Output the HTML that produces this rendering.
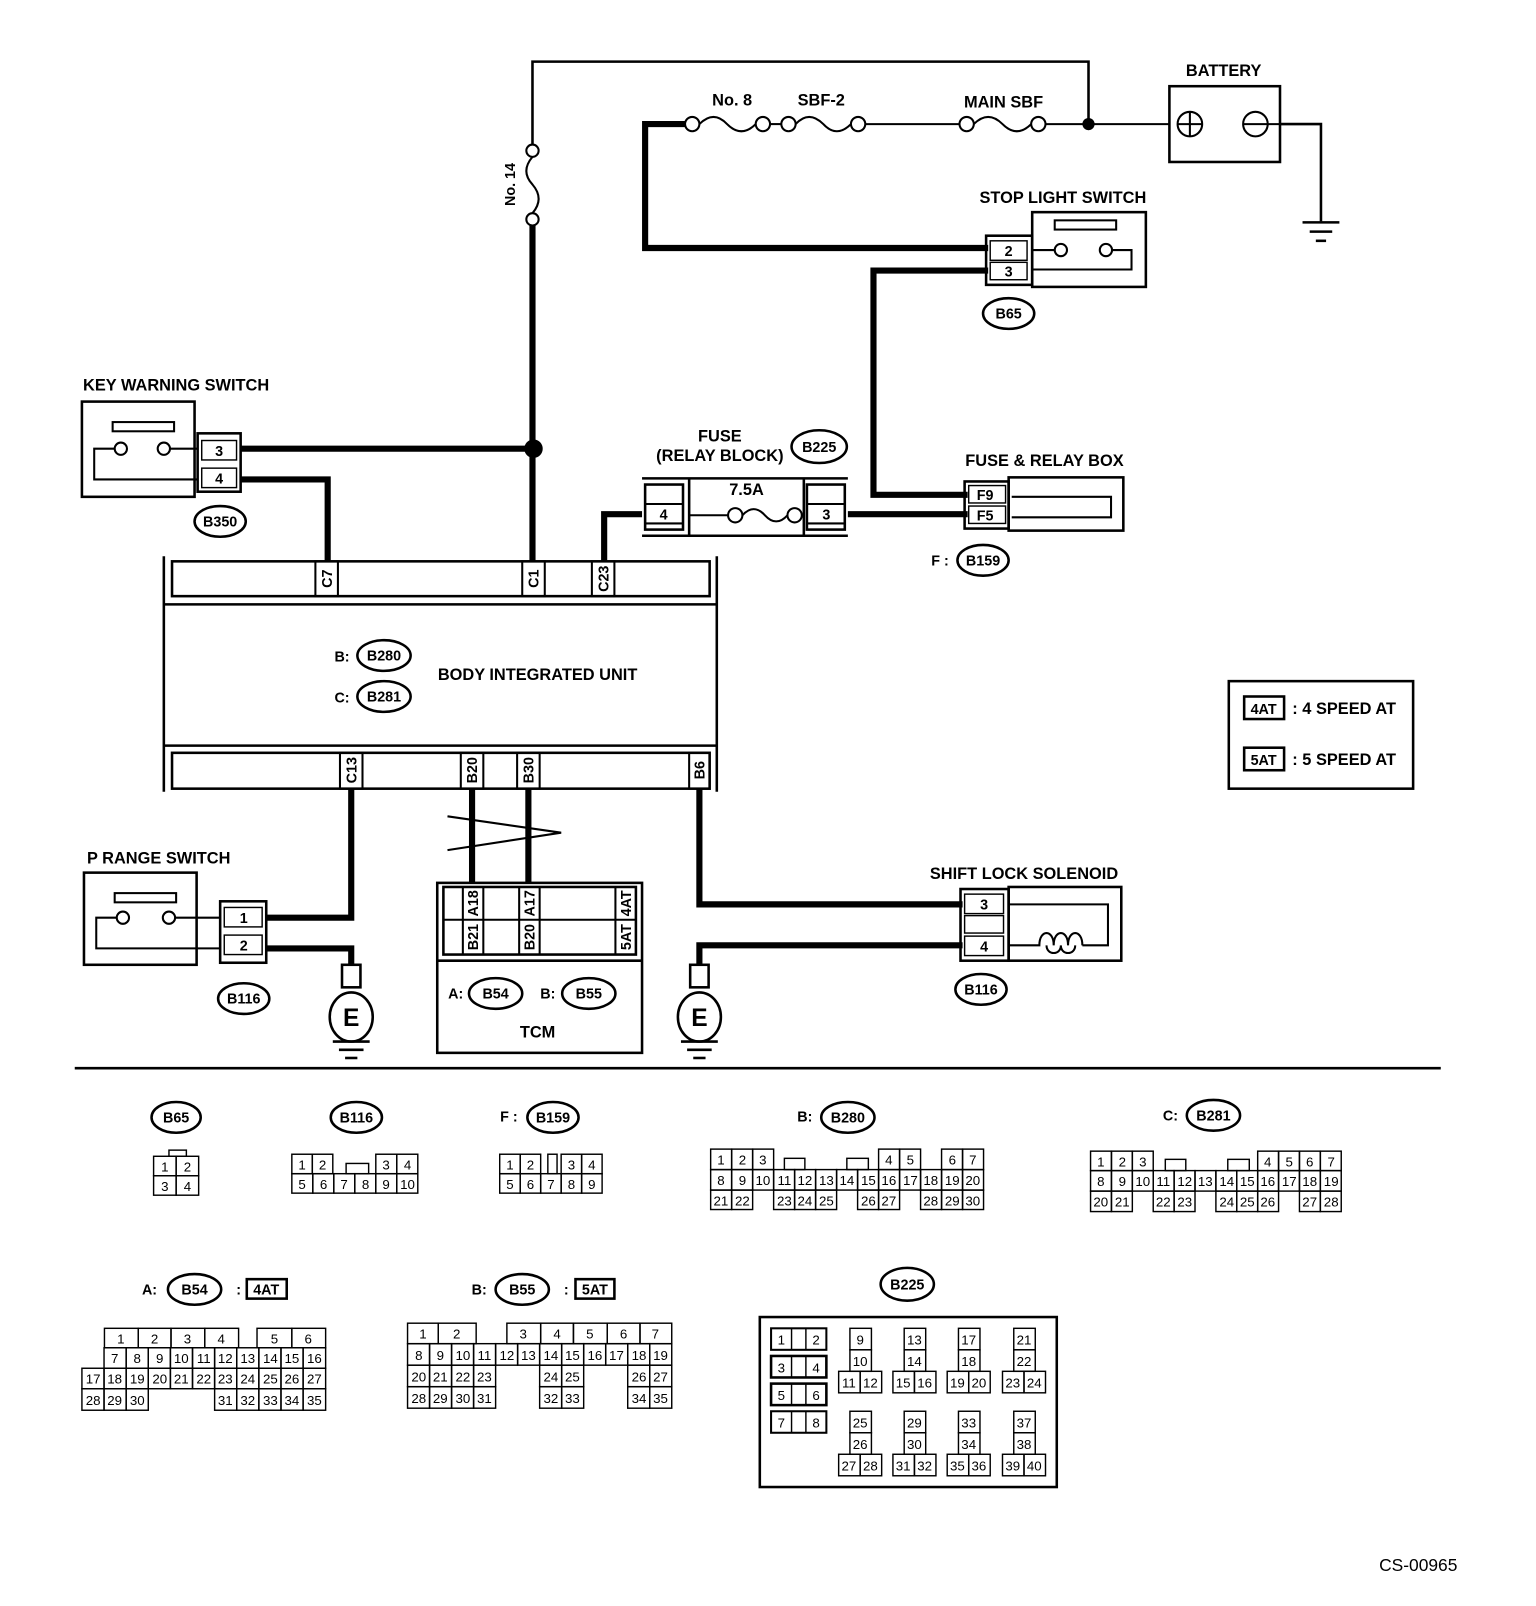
<!DOCTYPE html>
<html><head><meta charset="utf-8">
<style>
html,body{margin:0;padding:0;background:#fff;}
svg{display:block;}
text{font-family:"Liberation Sans",Arial,sans-serif;fill:#000;}
.l{font-weight:bold;font-size:14px;text-anchor:middle;}
.L{font-size:16px;}
.c{font-size:13px;text-anchor:middle;}
.o{fill:none;stroke:#000;stroke-width:2.5;}
.t{fill:none;stroke:#000;stroke-width:2;}
.k{fill:none;stroke:#000;stroke-width:6;}
.r{fill:none;stroke:#000;stroke-width:1.4;}
</style></head><body>
<svg width="1536" height="1606" viewBox="0 0 1500 1568" xmlns="http://www.w3.org/2000/svg">
<!-- top thin wire -->
<polyline class="o" points="520,141 520,60 1063,60 1063,121"/>
<circle class="t" cx="520" cy="147" r="6" fill="#fff"/>
<circle class="t" cx="520" cy="214" r="6" fill="#fff"/>
<path class="t" d="M520,153 q-12,14 0,27 q12,14 0,28"/>
<text class="l" transform="translate(503,180) rotate(-90)">No. 14</text>
<line class="k" x1="520" y1="220" x2="520" y2="548"/>
<circle cx="521" cy="438" r="9"/>
<!-- fuse row -->
<path class="k" d="M669,121 H630 V242 H965"/>
<circle class="t" cx="676" cy="121" r="7"/><circle class="t" cx="745" cy="121" r="7"/>
<circle class="t" cx="770" cy="121" r="7"/><circle class="t" cx="838" cy="121" r="7"/>
<circle class="t" cx="944" cy="121" r="7"/><circle class="t" cx="1014" cy="121" r="7"/>
<path class="t" d="M683,121 q14,-14 27,0 q14,14 28,0"/>
<path class="t" d="M777,121 q13,-14 27,0 q13,14 27,0"/>
<path class="t" d="M951,121 q14,-14 28,0 q14,14 28,0"/>
<line class="t" x1="752" y1="121" x2="763" y2="121"/>
<line class="t" x1="845" y1="121" x2="937" y2="121"/>
<line class="t" x1="1021" y1="121" x2="1143" y2="121"/>
<circle cx="1063" cy="121" r="6"/>
<text class="l L" x="715" y="103">No. 8</text>
<text class="l L" x="802" y="103">SBF-2</text>
<text class="l L" x="980" y="105">MAIN SBF</text>
<!-- battery -->
<rect class="o" x="1142" y="84" width="108" height="74"/>
<circle class="t" cx="1162" cy="121" r="12"/><line class="t" x1="1150" y1="121" x2="1174" y2="121"/><line class="t" x1="1162" y1="109" x2="1162" y2="133"/>
<circle class="t" cx="1226" cy="121" r="12"/><line class="t" x1="1214" y1="121" x2="1250" y2="121"/>
<polyline class="o" points="1250,121 1290,121 1290,216"/>
<line class="o" x1="1272" y1="217" x2="1308" y2="217"/>
<line class="o" x1="1279" y1="226" x2="1301" y2="226"/>
<line class="o" x1="1285" y1="235" x2="1295" y2="235"/>
<text class="l L" x="1195" y="74">BATTERY</text>
<!-- stop light switch -->
<text class="l L" x="1038" y="198">STOP LIGHT SWITCH</text>
<rect class="o" x="963" y="230" width="45" height="48"/>
<rect class="r" x="967" y="235" width="36" height="19"/><text class="l" x="985" y="250">2</text>
<rect class="r" x="967" y="256" width="36" height="17"/><text class="l" x="985" y="270">3</text>
<rect class="o" x="1008" y="207" width="111" height="73"/>
<rect class="t" x="1030" y="215" width="60" height="9"/>
<circle class="t" cx="1036" cy="244" r="6"/><circle class="t" cx="1080" cy="244" r="6"/>
<line class="t" x1="1008" y1="244" x2="1030" y2="244"/>
<polyline class="t" points="1086,244 1105,244 1105,263 1008,263"/>
<ellipse class="o" cx="985" cy="306" rx="25" ry="15"/><text class="l" x="985" y="311">B65</text>
<path class="k" d="M965,264 H853 V483 H945"/>
<!-- fuse & relay box -->
<text class="l L" x="1020" y="455">FUSE &amp; RELAY BOX</text>
<rect class="o" x="942" y="470" width="43" height="46"/>
<rect class="r" x="946" y="474" width="36" height="17"/><text class="l" x="962" y="488">F9</text>
<rect class="r" x="946" y="494" width="36" height="17"/><text class="l" x="962" y="508">F5</text>
<rect class="o" x="985" y="466" width="112" height="52"/>
<polyline class="t" points="988,485 1085,485 1085,505 988,505"/>
<text class="l" x="918" y="552">F :</text>
<ellipse class="o" cx="960" cy="547" rx="25" ry="15"/><text class="l" x="960" y="552">B159</text>
<!-- relay block -->
<text class="l L" x="703" y="431">FUSE</text>
<text class="l L" x="703" y="450">(RELAY BLOCK)</text>
<ellipse class="o" cx="800" cy="436" rx="27" ry="16"/><text class="l" x="800" y="441">B225</text>
<line class="o" x1="627" y1="467" x2="828" y2="467"/>
<line class="o" x1="627" y1="523" x2="828" y2="523"/>
<line class="o" x1="673" y1="467" x2="673" y2="523"/>
<line class="o" x1="785" y1="467" x2="785" y2="523"/>
<rect class="o" x="630" y="473" width="37" height="44"/><line class="t" x1="630" y1="492" x2="667" y2="492"/><line class="t" x1="630" y1="511" x2="667" y2="511"/>
<rect class="o" x="788" y="473" width="37" height="44"/><line class="t" x1="788" y1="492" x2="825" y2="492"/><line class="t" x1="788" y1="511" x2="825" y2="511"/>
<text class="l" x="648" y="507">4</text><text class="l" x="807" y="507">3</text>
<text class="l L" x="729" y="483">7.5A</text>
<circle class="t" cx="718" cy="503" r="7"/><circle class="t" cx="776" cy="503" r="7"/>
<line class="t" x1="673" y1="503" x2="711" y2="503"/><line class="t" x1="783" y1="503" x2="785" y2="503"/>
<path class="t" d="M725,503 q11,-12 22,0 q11,12 22,0"/>
<path class="k" d="M828,502 H945"/>
<path class="k" d="M627,502 H590 V548"/>
<!-- body integrated unit -->
<line class="o" x1="160" y1="543" x2="160" y2="773"/>
<line class="o" x1="700" y1="543" x2="700" y2="773"/>
<rect class="o" x="168" y="548" width="525" height="34"/>
<line class="o" x1="160" y1="590" x2="700" y2="590"/>
<line class="o" x1="160" y1="728" x2="700" y2="728"/>
<rect class="o" x="168" y="735" width="525" height="35"/>
<rect class="t" x="308" y="548" width="22" height="34"/><text class="l" transform="translate(324,565) rotate(-90)">C7</text>
<rect class="t" x="510" y="548" width="22" height="34"/><text class="l" transform="translate(526,565) rotate(-90)">C1</text>
<rect class="t" x="578" y="548" width="22" height="34"/><text class="l" transform="translate(594,565) rotate(-90)">C23</text>
<rect class="t" x="332" y="735" width="22" height="35"/><text class="l" transform="translate(348,752) rotate(-90)">C13</text>
<rect class="t" x="450" y="735" width="22" height="35"/><text class="l" transform="translate(466,752) rotate(-90)">B20</text>
<rect class="t" x="505" y="735" width="22" height="35"/><text class="l" transform="translate(521,752) rotate(-90)">B30</text>
<rect class="t" x="673" y="735" width="20" height="35"/><text class="l" transform="translate(688,752) rotate(-90)">B6</text>
<text class="l" x="334" y="646">B:</text>
<ellipse class="o" cx="375" cy="640" rx="26" ry="15"/><text class="l" x="375" y="645">B280</text>
<text class="l" x="334" y="686">C:</text>
<ellipse class="o" cx="375" cy="680" rx="26" ry="15"/><text class="l" x="375" y="685">B281</text>
<text class="l L" x="525" y="664">BODY INTEGRATED UNIT</text>
<!-- key warning switch -->
<text class="l L" x="172" y="381">KEY WARNING SWITCH</text>
<rect class="o" x="80" y="392" width="110" height="93"/>
<rect class="o" x="193" y="423" width="42" height="57"/>
<rect class="r" x="197" y="430" width="34" height="19"/><text class="l" x="214" y="445">3</text>
<rect class="r" x="197" y="457" width="34" height="19"/><text class="l" x="214" y="472">4</text>
<rect class="t" x="110" y="412" width="60" height="9"/>
<circle class="t" cx="118" cy="438" r="6"/><circle class="t" cx="160" cy="438" r="6"/>
<line class="t" x1="166" y1="438" x2="193" y2="438"/>
<polyline class="t" points="112,438 92,438 92,468 193,468"/>
<ellipse class="o" cx="215" cy="509" rx="25" ry="15"/><text class="l" x="215" y="514">B350</text>
<path class="k" d="M235,438 H521"/>
<path class="k" d="M235,468 H320 V548"/>
<!-- P range switch -->
<text class="l L" x="155" y="843">P RANGE SWITCH</text>
<rect class="o" x="82" y="852" width="110" height="90"/>
<rect class="o" x="215" y="880" width="45" height="60"/>
<rect class="r" x="219" y="886" width="37" height="19"/><text class="l" x="238" y="901">1</text>
<rect class="r" x="219" y="913" width="37" height="19"/><text class="l" x="238" y="928">2</text>
<rect class="t" x="112" y="872" width="60" height="9"/>
<circle class="t" cx="120" cy="896" r="6"/><circle class="t" cx="165" cy="896" r="6"/>
<line class="t" x1="171" y1="896" x2="215" y2="896"/>
<polyline class="t" points="114,896 94,896 94,926 215,926"/>
<ellipse class="o" cx="238" cy="975" rx="25" ry="15"/><text class="l" x="238" y="980">B116</text>
<path class="k" d="M260,896 H343 V770"/>
<path class="k" d="M260,926 H343 V942"/>
<rect class="o" x="334" y="942" width="18" height="22"/>
<ellipse class="o" cx="343" cy="993" rx="21" ry="24"/>
<text x="343" y="1002" style="font-weight:bold;font-size:24px;text-anchor:middle">E</text>
<line class="o" x1="325" y1="1017" x2="361" y2="1017"/>
<line class="o" x1="331" y1="1025" x2="355" y2="1025"/>
<line class="o" x1="337" y1="1033" x2="349" y2="1033"/>
<!-- TCM -->
<line class="k" x1="461" y1="770" x2="461" y2="862"/>
<line class="k" x1="516" y1="770" x2="516" y2="862"/>
<polyline class="t" points="437,797 548,813 437,830"/>
<rect class="o" x="427" y="862" width="200" height="166"/>
<rect class="o" x="433" y="866" width="188" height="66"/>
<line class="t" x1="433" y1="898" x2="621" y2="898"/>
<line class="o" x1="427" y1="938" x2="627" y2="938"/>
<line class="t" x1="452" y1="866" x2="452" y2="932"/><line class="t" x1="472" y1="866" x2="472" y2="932"/>
<line class="t" x1="507" y1="866" x2="507" y2="932"/><line class="t" x1="527" y1="866" x2="527" y2="932"/>
<line class="t" x1="601" y1="866" x2="601" y2="932"/>
<text class="l" transform="translate(467,882) rotate(-90)">A18</text>
<text class="l" transform="translate(467,915) rotate(-90)">B21</text>
<text class="l" transform="translate(522,882) rotate(-90)">A17</text>
<text class="l" transform="translate(522,915) rotate(-90)">B20</text>
<text class="l" transform="translate(616,882) rotate(-90)">4AT</text>
<text class="l" transform="translate(616,915) rotate(-90)">5AT</text>
<text class="l" x="445" y="975">A:</text>
<ellipse class="o" cx="484" cy="970" rx="26" ry="15"/><text class="l" x="484" y="975">B54</text>
<text class="l" x="535" y="975">B:</text>
<ellipse class="o" cx="575" cy="970" rx="26" ry="15"/><text class="l" x="575" y="975">B55</text>
<text class="l L" x="525" y="1013">TCM</text>
<!-- shift lock -->
<path class="k" d="M683,770 V883 H940"/>
<path class="k" d="M940,923 H683 V942"/>
<rect class="o" x="674" y="942" width="18" height="22"/>
<ellipse class="o" cx="683" cy="993" rx="21" ry="24"/>
<text x="683" y="1002" style="font-weight:bold;font-size:24px;text-anchor:middle">E</text>
<line class="o" x1="665" y1="1017" x2="701" y2="1017"/>
<line class="o" x1="671" y1="1025" x2="695" y2="1025"/>
<line class="o" x1="677" y1="1033" x2="689" y2="1033"/>
<text class="l L" x="1000" y="858">SHIFT LOCK SOLENOID</text>
<rect class="o" x="938" y="868" width="47" height="70"/>
<rect class="r" x="942" y="873" width="38" height="19"/><text class="l" x="961" y="888">3</text>
<rect class="r" x="942" y="894" width="38" height="17"/>
<rect class="r" x="942" y="914" width="38" height="19"/><text class="l" x="961" y="929">4</text>
<rect class="o" x="985" y="866" width="110" height="72"/>
<path class="t" d="M985,923 H1015 c0,-16 14,-16 14,0 c0,-16 14,-16 14,0 c0,-16 14,-16 14,0 M1057,923 H1082 V883 H985"/>
<path class="t" d="M1022,923 c0,10 14,10 14,0 M1036,923 c0,10 14,10 14,0"/>
<ellipse class="o" cx="958" cy="966" rx="25" ry="15"/><text class="l" x="958" y="971">B116</text>
<!-- legend -->
<rect class="o" x="1200" y="665" width="180" height="105"/>
<rect class="o" x="1215" y="680" width="39" height="22"/><text class="l" x="1234" y="697">4AT</text>
<text class="l L" x="1262" y="697" style="text-anchor:start">: 4 SPEED AT</text>
<rect class="o" x="1215" y="730" width="39" height="22"/><text class="l" x="1234" y="747">5AT</text>
<text class="l L" x="1262" y="747" style="text-anchor:start">: 5 SPEED AT</text>
<line class="o" x1="73" y1="1043" x2="1407" y2="1043"/>
<text x="1385" y="1534" style="font-size:17px;text-anchor:middle">CS-00965</text>

<!-- B65 -->
<ellipse class="o" cx="172" cy="1091" rx="24" ry="15"/><text class="l" x="172" y="1096">B65</text>
<g class="r"><rect class="r" x="165" y="1123" width="17" height="6"/>
<rect class="r" x="150" y="1129" width="22" height="19"/><rect class="r" x="172" y="1129" width="22" height="19"/>
<rect class="r" x="150" y="1148" width="22" height="19"/><rect class="r" x="172" y="1148" width="22" height="19"/></g>
<text class="c" x="161" y="1144">1</text><text class="c" x="183" y="1144">2</text><text class="c" x="161" y="1163">3</text><text class="c" x="183" y="1163">4</text>

<!-- B116 -->
<ellipse class="o" cx="348" cy="1091" rx="25" ry="15"/><text class="l" x="348" y="1096">B116</text>
<rect class="r" x="285" y="1127" width="20" height="19"/><text class="c" x="295" y="1142">1</text>
<rect class="r" x="305" y="1127" width="20" height="19"/><text class="c" x="315" y="1142">2</text>
<rect class="r" x="338" y="1136" width="22" height="10"/>
<rect class="r" x="367" y="1127" width="20.5" height="19"/><text class="c" x="377" y="1142">3</text>
<rect class="r" x="387.5" y="1127" width="20.5" height="19"/><text class="c" x="398" y="1142">4</text>
<rect class="r" x="285" y="1146" width="20.5" height="19"/><text class="c" x="295" y="1161">5</text>
<rect class="r" x="305.5" y="1146" width="20.5" height="19"/><text class="c" x="316" y="1161">6</text>
<rect class="r" x="326" y="1146" width="20.5" height="19"/><text class="c" x="336" y="1161">7</text>
<rect class="r" x="346.5" y="1146" width="20.5" height="19"/><text class="c" x="357" y="1161">8</text>
<rect class="r" x="367" y="1146" width="20.5" height="19"/><text class="c" x="377" y="1161">9</text>
<rect class="r" x="387.5" y="1146" width="20.5" height="19"/><text class="c" x="398" y="1161">10</text>

<!-- B159 -->
<text class="l" x="497" y="1095">F :</text>
<ellipse class="o" cx="540" cy="1091" rx="25" ry="15"/><text class="l" x="540" y="1096">B159</text>
<rect class="r" x="488" y="1127" width="20" height="19"/><text class="c" x="498" y="1142">1</text>
<rect class="r" x="508" y="1127" width="20" height="19"/><text class="c" x="518" y="1142">2</text>
<rect class="r" x="535" y="1127" width="9" height="19"/>
<rect class="r" x="548" y="1127" width="20" height="19"/><text class="c" x="558" y="1142">3</text>
<rect class="r" x="568" y="1127" width="20" height="19"/><text class="c" x="578" y="1142">4</text>
<rect class="r" x="488" y="1146" width="20" height="19"/><text class="c" x="498" y="1161">5</text>
<rect class="r" x="508" y="1146" width="20" height="19"/><text class="c" x="518" y="1161">6</text>
<rect class="r" x="528" y="1146" width="20" height="19"/><text class="c" x="538" y="1161">7</text>
<rect class="r" x="548" y="1146" width="20" height="19"/><text class="c" x="558" y="1161">8</text>
<rect class="r" x="568" y="1146" width="20" height="19"/><text class="c" x="578" y="1161">9</text>

<!-- B280 -->
<text class="l" x="786" y="1095">B:</text>
<ellipse class="o" cx="828" cy="1091" rx="26" ry="15"/><text class="l" x="828" y="1096">B280</text>
<rect class="r" x="766" y="1131" width="20" height="11"/><rect class="r" x="827" y="1131" width="21" height="11"/>
<rect class="r" x="694" y="1122" width="20.5" height="20"/><text class="c" x="704" y="1137">1</text>
<rect class="r" x="714.5" y="1122" width="20.5" height="20"/><text class="c" x="725" y="1137">2</text>
<rect class="r" x="735" y="1122" width="20.5" height="20"/><text class="c" x="745" y="1137">3</text>
<rect class="r" x="858" y="1122" width="20.5" height="20"/><text class="c" x="868" y="1137">4</text>
<rect class="r" x="878.5" y="1122" width="20.5" height="20"/><text class="c" x="889" y="1137">5</text>
<rect class="r" x="919.5" y="1122" width="20.5" height="20"/><text class="c" x="930" y="1137">6</text>
<rect class="r" x="940" y="1122" width="20.5" height="20"/><text class="c" x="950" y="1137">7</text>
<rect class="r" x="694" y="1142" width="20.5" height="20"/><text class="c" x="704" y="1157">8</text>
<rect class="r" x="714.5" y="1142" width="20.5" height="20"/><text class="c" x="725" y="1157">9</text>
<rect class="r" x="735" y="1142" width="20.5" height="20"/><text class="c" x="745" y="1157">10</text>
<rect class="r" x="755.5" y="1142" width="20.5" height="20"/><text class="c" x="766" y="1157">11</text>
<rect class="r" x="776" y="1142" width="20.5" height="20"/><text class="c" x="786" y="1157">12</text>
<rect class="r" x="796.5" y="1142" width="20.5" height="20"/><text class="c" x="807" y="1157">13</text>
<rect class="r" x="817" y="1142" width="20.5" height="20"/><text class="c" x="827" y="1157">14</text>
<rect class="r" x="837.5" y="1142" width="20.5" height="20"/><text class="c" x="848" y="1157">15</text>
<rect class="r" x="858" y="1142" width="20.5" height="20"/><text class="c" x="868" y="1157">16</text>
<rect class="r" x="878.5" y="1142" width="20.5" height="20"/><text class="c" x="889" y="1157">17</text>
<rect class="r" x="899" y="1142" width="20.5" height="20"/><text class="c" x="909" y="1157">18</text>
<rect class="r" x="919.5" y="1142" width="20.5" height="20"/><text class="c" x="930" y="1157">19</text>
<rect class="r" x="940" y="1142" width="20.5" height="20"/><text class="c" x="950" y="1157">20</text>
<rect class="r" x="694" y="1162" width="20.5" height="19"/><text class="c" x="704" y="1177">21</text>
<rect class="r" x="714.5" y="1162" width="20.5" height="19"/><text class="c" x="725" y="1177">22</text>
<rect class="r" x="755.5" y="1162" width="20.5" height="19"/><text class="c" x="766" y="1177">23</text>
<rect class="r" x="776" y="1162" width="20.5" height="19"/><text class="c" x="786" y="1177">24</text>
<rect class="r" x="796.5" y="1162" width="20.5" height="19"/><text class="c" x="807" y="1177">25</text>
<rect class="r" x="837.5" y="1162" width="20.5" height="19"/><text class="c" x="848" y="1177">26</text>
<rect class="r" x="858" y="1162" width="20.5" height="19"/><text class="c" x="868" y="1177">27</text>
<rect class="r" x="899" y="1162" width="20.5" height="19"/><text class="c" x="909" y="1177">28</text>
<rect class="r" x="919.5" y="1162" width="20.5" height="19"/><text class="c" x="930" y="1177">29</text>
<rect class="r" x="940" y="1162" width="20.5" height="19"/><text class="c" x="950" y="1177">30</text>

<!-- B281 -->
<text class="l" x="1143" y="1094">C:</text>
<ellipse class="o" cx="1185" cy="1089" rx="26" ry="15"/><text class="l" x="1185" y="1094">B281</text>
<rect class="r" x="1138" y="1132" width="20" height="11"/><rect class="r" x="1199" y="1132" width="21" height="11"/>
<rect class="r" x="1065" y="1124" width="20.4" height="19"/><text class="c" x="1075" y="1139">1</text>
<rect class="r" x="1085.4" y="1124" width="20.4" height="19"/><text class="c" x="1096" y="1139">2</text>
<rect class="r" x="1105.8" y="1124" width="20.4" height="19"/><text class="c" x="1116" y="1139">3</text>
<rect class="r" x="1228.2" y="1124" width="20.4" height="19"/><text class="c" x="1238" y="1139">4</text>
<rect class="r" x="1248.6" y="1124" width="20.4" height="19"/><text class="c" x="1259" y="1139">5</text>
<rect class="r" x="1269" y="1124" width="20.4" height="19"/><text class="c" x="1279" y="1139">6</text>
<rect class="r" x="1289.4" y="1124" width="20.4" height="19"/><text class="c" x="1300" y="1139">7</text>
<rect class="r" x="1065" y="1143" width="20.4" height="20"/><text class="c" x="1075" y="1158">8</text>
<rect class="r" x="1085.4" y="1143" width="20.4" height="20"/><text class="c" x="1096" y="1158">9</text>
<rect class="r" x="1105.8" y="1143" width="20.4" height="20"/><text class="c" x="1116" y="1158">10</text>
<rect class="r" x="1126.2" y="1143" width="20.4" height="20"/><text class="c" x="1136" y="1158">11</text>
<rect class="r" x="1146.6" y="1143" width="20.4" height="20"/><text class="c" x="1157" y="1158">12</text>
<rect class="r" x="1167" y="1143" width="20.4" height="20"/><text class="c" x="1177" y="1158">13</text>
<rect class="r" x="1187.4" y="1143" width="20.4" height="20"/><text class="c" x="1198" y="1158">14</text>
<rect class="r" x="1207.8" y="1143" width="20.4" height="20"/><text class="c" x="1218" y="1158">15</text>
<rect class="r" x="1228.2" y="1143" width="20.4" height="20"/><text class="c" x="1238" y="1158">16</text>
<rect class="r" x="1248.6" y="1143" width="20.4" height="20"/><text class="c" x="1259" y="1158">17</text>
<rect class="r" x="1269" y="1143" width="20.4" height="20"/><text class="c" x="1279" y="1158">18</text>
<rect class="r" x="1289.4" y="1143" width="20.4" height="20"/><text class="c" x="1300" y="1158">19</text>
<rect class="r" x="1065" y="1163" width="20.4" height="20"/><text class="c" x="1075" y="1178">20</text>
<rect class="r" x="1085.4" y="1163" width="20.4" height="20"/><text class="c" x="1096" y="1178">21</text>
<rect class="r" x="1126.2" y="1163" width="20.4" height="20"/><text class="c" x="1136" y="1178">22</text>
<rect class="r" x="1146.6" y="1163" width="20.4" height="20"/><text class="c" x="1157" y="1178">23</text>
<rect class="r" x="1187.4" y="1163" width="20.4" height="20"/><text class="c" x="1198" y="1178">24</text>
<rect class="r" x="1207.8" y="1163" width="20.4" height="20"/><text class="c" x="1218" y="1178">25</text>
<rect class="r" x="1228.2" y="1163" width="20.4" height="20"/><text class="c" x="1238" y="1178">26</text>
<rect class="r" x="1269" y="1163" width="20.4" height="20"/><text class="c" x="1279" y="1178">27</text>
<rect class="r" x="1289.4" y="1163" width="20.4" height="20"/><text class="c" x="1300" y="1178">28</text>

<!-- B54 -->
<text class="l" x="146" y="1264">A:</text>
<ellipse class="o" cx="190" cy="1259" rx="26" ry="15"/><text class="l" x="190" y="1264">B54</text>
<text class="l" x="233" y="1264">:</text>
<rect class="o" x="241" y="1249" width="39" height="19"/><text class="l" x="260" y="1264">4AT</text>
<rect class="r" x="102" y="1297" width="33" height="19"/><text class="c" x="118" y="1312">1</text>
<rect class="r" x="135" y="1297" width="32" height="19"/><text class="c" x="151" y="1312">2</text>
<rect class="r" x="167" y="1297" width="33" height="19"/><text class="c" x="183" y="1312">3</text>
<rect class="r" x="200" y="1297" width="33" height="19"/><text class="c" x="216" y="1312">4</text>
<rect class="r" x="251" y="1297" width="34" height="19"/><text class="c" x="268" y="1312">5</text>
<rect class="r" x="285" y="1297" width="33" height="19"/><text class="c" x="301" y="1312">6</text>
<rect class="r" x="101.6" y="1316" width="21.6" height="20"/><text class="c" x="112" y="1331">7</text>
<rect class="r" x="123.2" y="1316" width="21.6" height="20"/><text class="c" x="134" y="1331">8</text>
<rect class="r" x="144.8" y="1316" width="21.6" height="20"/><text class="c" x="156" y="1331">9</text>
<rect class="r" x="166.4" y="1316" width="21.6" height="20"/><text class="c" x="177" y="1331">10</text>
<rect class="r" x="188" y="1316" width="21.6" height="20"/><text class="c" x="199" y="1331">11</text>
<rect class="r" x="209.6" y="1316" width="21.6" height="20"/><text class="c" x="220" y="1331">12</text>
<rect class="r" x="231.2" y="1316" width="21.6" height="20"/><text class="c" x="242" y="1331">13</text>
<rect class="r" x="252.8" y="1316" width="21.6" height="20"/><text class="c" x="264" y="1331">14</text>
<rect class="r" x="274.4" y="1316" width="21.6" height="20"/><text class="c" x="285" y="1331">15</text>
<rect class="r" x="296" y="1316" width="22" height="20"/><text class="c" x="307" y="1331">16</text>
<rect class="r" x="80" y="1336" width="21.6" height="20"/><text class="c" x="91" y="1351">17</text>
<rect class="r" x="101.6" y="1336" width="21.6" height="20"/><text class="c" x="112" y="1351">18</text>
<rect class="r" x="123.2" y="1336" width="21.6" height="20"/><text class="c" x="134" y="1351">19</text>
<rect class="r" x="144.8" y="1336" width="21.6" height="20"/><text class="c" x="156" y="1351">20</text>
<rect class="r" x="166.4" y="1336" width="21.6" height="20"/><text class="c" x="177" y="1351">21</text>
<rect class="r" x="188" y="1336" width="21.6" height="20"/><text class="c" x="199" y="1351">22</text>
<rect class="r" x="209.6" y="1336" width="21.6" height="20"/><text class="c" x="220" y="1351">23</text>
<rect class="r" x="231.2" y="1336" width="21.6" height="20"/><text class="c" x="242" y="1351">24</text>
<rect class="r" x="252.8" y="1336" width="21.6" height="20"/><text class="c" x="264" y="1351">25</text>
<rect class="r" x="274.4" y="1336" width="21.6" height="20"/><text class="c" x="285" y="1351">26</text>
<rect class="r" x="296" y="1336" width="22" height="20"/><text class="c" x="307" y="1351">27</text>
<rect class="r" x="80" y="1356" width="21.6" height="21"/><text class="c" x="91" y="1372">28</text>
<rect class="r" x="101.6" y="1356" width="21.6" height="21"/><text class="c" x="112" y="1372">29</text>
<rect class="r" x="123.2" y="1356" width="21.6" height="21"/><text class="c" x="134" y="1372">30</text>
<rect class="r" x="209.6" y="1356" width="21.6" height="21"/><text class="c" x="220" y="1372">31</text>
<rect class="r" x="231.2" y="1356" width="21.6" height="21"/><text class="c" x="242" y="1372">32</text>
<rect class="r" x="252.8" y="1356" width="21.6" height="21"/><text class="c" x="264" y="1372">33</text>
<rect class="r" x="274.4" y="1356" width="21.6" height="21"/><text class="c" x="285" y="1372">34</text>
<rect class="r" x="296" y="1356" width="22" height="21"/><text class="c" x="307" y="1372">35</text>

<!-- B55 -->
<text class="l" x="468" y="1264">B:</text>
<ellipse class="o" cx="510" cy="1259" rx="26" ry="15"/><text class="l" x="510" y="1264">B55</text>
<text class="l" x="553" y="1264">:</text>
<rect class="o" x="562" y="1249" width="38" height="19"/><text class="l" x="581" y="1264">5AT</text>
<rect class="r" x="398" y="1292" width="30" height="20"/><text class="c" x="413" y="1307">1</text>
<rect class="r" x="428" y="1292" width="37" height="20"/><text class="c" x="446" y="1307">2</text>
<rect class="r" x="495" y="1292" width="33" height="20"/><text class="c" x="511" y="1307">3</text>
<rect class="r" x="528" y="1292" width="32" height="20"/><text class="c" x="544" y="1307">4</text>
<rect class="r" x="560" y="1292" width="33" height="20"/><text class="c" x="576" y="1307">5</text>
<rect class="r" x="593" y="1292" width="32" height="20"/><text class="c" x="609" y="1307">6</text>
<rect class="r" x="625" y="1292" width="31" height="20"/><text class="c" x="640" y="1307">7</text>
<rect class="r" x="398" y="1312" width="21.5" height="21"/><text class="c" x="409" y="1328">8</text>
<rect class="r" x="419.5" y="1312" width="21.5" height="21"/><text class="c" x="430" y="1328">9</text>
<rect class="r" x="441" y="1312" width="21.5" height="21"/><text class="c" x="452" y="1328">10</text>
<rect class="r" x="462.5" y="1312" width="21.5" height="21"/><text class="c" x="473" y="1328">11</text>
<rect class="r" x="484" y="1312" width="21.5" height="21"/><text class="c" x="495" y="1328">12</text>
<rect class="r" x="505.5" y="1312" width="21.5" height="21"/><text class="c" x="516" y="1328">13</text>
<rect class="r" x="527" y="1312" width="21.5" height="21"/><text class="c" x="538" y="1328">14</text>
<rect class="r" x="548.5" y="1312" width="21.5" height="21"/><text class="c" x="559" y="1328">15</text>
<rect class="r" x="570" y="1312" width="21.5" height="21"/><text class="c" x="581" y="1328">16</text>
<rect class="r" x="591.5" y="1312" width="21.5" height="21"/><text class="c" x="602" y="1328">17</text>
<rect class="r" x="613" y="1312" width="21.5" height="21"/><text class="c" x="624" y="1328">18</text>
<rect class="r" x="634.5" y="1312" width="21.5" height="21"/><text class="c" x="645" y="1328">19</text>
<rect class="r" x="398" y="1333" width="21.5" height="21"/><text class="c" x="409" y="1349">20</text>
<rect class="r" x="419.5" y="1333" width="21.5" height="21"/><text class="c" x="430" y="1349">21</text>
<rect class="r" x="441" y="1333" width="21.5" height="21"/><text class="c" x="452" y="1349">22</text>
<rect class="r" x="462.5" y="1333" width="21.5" height="21"/><text class="c" x="473" y="1349">23</text>
<rect class="r" x="527" y="1333" width="21.5" height="21"/><text class="c" x="538" y="1349">24</text>
<rect class="r" x="548.5" y="1333" width="21.5" height="21"/><text class="c" x="559" y="1349">25</text>
<rect class="r" x="613" y="1333" width="21.5" height="21"/><text class="c" x="624" y="1349">26</text>
<rect class="r" x="634.5" y="1333" width="21.5" height="21"/><text class="c" x="645" y="1349">27</text>
<rect class="r" x="398" y="1354" width="21.5" height="21"/><text class="c" x="409" y="1370">28</text>
<rect class="r" x="419.5" y="1354" width="21.5" height="21"/><text class="c" x="430" y="1370">29</text>
<rect class="r" x="441" y="1354" width="21.5" height="21"/><text class="c" x="452" y="1370">30</text>
<rect class="r" x="462.5" y="1354" width="21.5" height="21"/><text class="c" x="473" y="1370">31</text>
<rect class="r" x="527" y="1354" width="21.5" height="21"/><text class="c" x="538" y="1370">32</text>
<rect class="r" x="548.5" y="1354" width="21.5" height="21"/><text class="c" x="559" y="1370">33</text>
<rect class="r" x="613" y="1354" width="21.5" height="21"/><text class="c" x="624" y="1370">34</text>
<rect class="r" x="634.5" y="1354" width="21.5" height="21"/><text class="c" x="645" y="1370">35</text>

<!-- B225 -->
<ellipse class="o" cx="886" cy="1254" rx="26" ry="16"/><text class="l" x="886" y="1259">B225</text>
<rect class="o" x="742" y="1286" width="290" height="166"/>
<rect class="t" x="753" y="1297" width="54" height="21"/><line class="r" x1="773" y1="1297" x2="773" y2="1318"/><line class="r" x1="787" y1="1297" x2="787" y2="1318"/><text class="c" x="763" y="1313">1</text><text class="c" x="797" y="1313">2</text>
<rect class="o" x="753" y="1324" width="54" height="21"/><line class="r" x1="773" y1="1324" x2="773" y2="1345"/><line class="r" x1="787" y1="1324" x2="787" y2="1345"/><text class="c" x="763" y="1340">3</text><text class="c" x="797" y="1340">4</text>
<rect class="o" x="753" y="1351" width="54" height="21"/><line class="r" x1="773" y1="1351" x2="773" y2="1372"/><line class="r" x1="787" y1="1351" x2="787" y2="1372"/><text class="c" x="763" y="1367">5</text><text class="c" x="797" y="1367">6</text>
<rect class="t" x="753" y="1378" width="54" height="21"/><line class="r" x1="773" y1="1378" x2="773" y2="1399"/><line class="r" x1="787" y1="1378" x2="787" y2="1399"/><text class="c" x="763" y="1394">7</text><text class="c" x="797" y="1394">8</text>

<rect class="r" x="830" y="1297" width="21" height="21"/><text class="c" x="840" y="1313">9</text>
<rect class="r" x="830" y="1318" width="21" height="21"/><text class="c" x="840" y="1334">10</text>
<rect class="r" x="819" y="1339" width="21" height="21"/><text class="c" x="829" y="1355">11</text>
<rect class="r" x="840" y="1339" width="21" height="21"/><text class="c" x="850" y="1355">12</text>
<rect class="r" x="883" y="1297" width="21" height="21"/><text class="c" x="893" y="1313">13</text>
<rect class="r" x="883" y="1318" width="21" height="21"/><text class="c" x="893" y="1334">14</text>
<rect class="r" x="872" y="1339" width="21" height="21"/><text class="c" x="882" y="1355">15</text>
<rect class="r" x="893" y="1339" width="21" height="21"/><text class="c" x="903" y="1355">16</text>
<rect class="r" x="936" y="1297" width="21" height="21"/><text class="c" x="946" y="1313">17</text>
<rect class="r" x="936" y="1318" width="21" height="21"/><text class="c" x="946" y="1334">18</text>
<rect class="r" x="925" y="1339" width="21" height="21"/><text class="c" x="935" y="1355">19</text>
<rect class="r" x="946" y="1339" width="21" height="21"/><text class="c" x="956" y="1355">20</text>
<rect class="r" x="990" y="1297" width="21" height="21"/><text class="c" x="1000" y="1313">21</text>
<rect class="r" x="990" y="1318" width="21" height="21"/><text class="c" x="1000" y="1334">22</text>
<rect class="r" x="979" y="1339" width="21" height="21"/><text class="c" x="989" y="1355">23</text>
<rect class="r" x="1000" y="1339" width="21" height="21"/><text class="c" x="1010" y="1355">24</text>

<rect class="r" x="830" y="1378" width="21" height="21"/><text class="c" x="840" y="1394">25</text>
<rect class="r" x="830" y="1399" width="21" height="21"/><text class="c" x="840" y="1415">26</text>
<rect class="r" x="819" y="1420" width="21" height="21"/><text class="c" x="829" y="1436">27</text>
<rect class="r" x="840" y="1420" width="21" height="21"/><text class="c" x="850" y="1436">28</text>
<rect class="r" x="883" y="1378" width="21" height="21"/><text class="c" x="893" y="1394">29</text>
<rect class="r" x="883" y="1399" width="21" height="21"/><text class="c" x="893" y="1415">30</text>
<rect class="r" x="872" y="1420" width="21" height="21"/><text class="c" x="882" y="1436">31</text>
<rect class="r" x="893" y="1420" width="21" height="21"/><text class="c" x="903" y="1436">32</text>
<rect class="r" x="936" y="1378" width="21" height="21"/><text class="c" x="946" y="1394">33</text>
<rect class="r" x="936" y="1399" width="21" height="21"/><text class="c" x="946" y="1415">34</text>
<rect class="r" x="925" y="1420" width="21" height="21"/><text class="c" x="935" y="1436">35</text>
<rect class="r" x="946" y="1420" width="21" height="21"/><text class="c" x="956" y="1436">36</text>
<rect class="r" x="990" y="1378" width="21" height="21"/><text class="c" x="1000" y="1394">37</text>
<rect class="r" x="990" y="1399" width="21" height="21"/><text class="c" x="1000" y="1415">38</text>
<rect class="r" x="979" y="1420" width="21" height="21"/><text class="c" x="989" y="1436">39</text>
<rect class="r" x="1000" y="1420" width="21" height="21"/><text class="c" x="1010" y="1436">40</text>
</svg>
</body></html>
